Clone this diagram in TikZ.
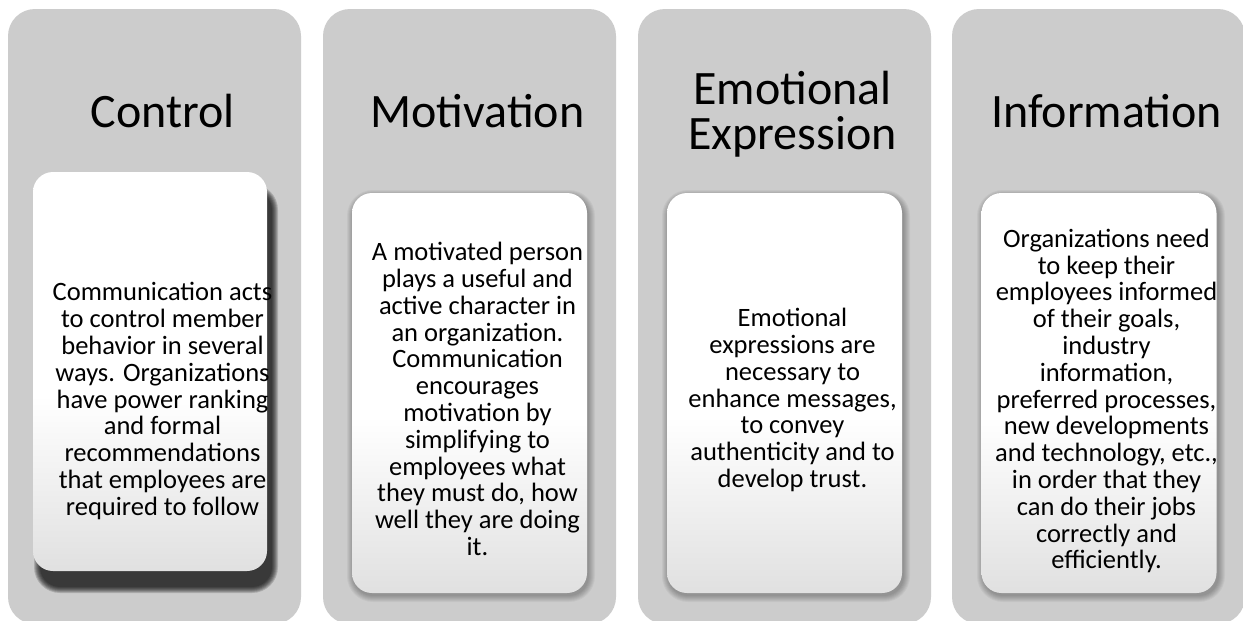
\documentclass[tikz,border=0pt]{standalone}
\usepackage{fontspec}
\setmainfont{Carlito}
\pgfdeclareverticalshading{cardshade}{100bp}{color(0bp)=(black!12); color(25bp)=(black!12); color(47bp)=(white); color(100bp)=(white)}
\newcommand\softshade[6]{%
  \foreach \k in {0,...,6}{%
    \fill[#6, opacity=#5, rounded corners={20+\k}] (#1-\k,#2-\k) rectangle (#3+\k,#4+\k);
  }%
}
\tikzset{
  column/.style={fill=black!20, draw=none, rounded corners=27pt, minimum width=293pt, minimum height=615pt, inner sep=0pt},
  card/.style={shading=cardshade, draw=none, rounded corners=20pt, minimum width=235pt, minimum height=400pt, inner sep=0pt},
  title/.style={font=\fontsize{48pt}{45pt}\selectfont, align=center, inner sep=0pt, text=black},
  body/.style={font=\fontsize{26.5pt}{26.8pt}\selectfont, align=center, inner sep=0pt, text=black}
}
\begin{document}
\begin{tikzpicture}[x=1pt,y=-1pt]
\useasboundingbox (0,0) rectangle (1243,621);
\fill[white] (0,0) rectangle (1243,621);
% columns
\node[column] (col1) at (154.5,316.5) {};
\node[column] (col2) at (469.5,316.5) {};
\node[column] (col3) at (784.5,316.5) {};
\node[column] (col4) at (1098.5,316.5) {};
% shadows
\softshade{40}{190}{272}{587}{0.16}{black}
\softshade{353}{196}{589}{596}{0.045}{black}
\softshade{668}{196}{904}{596}{0.045}{black}
\softshade{983}{196}{1219}{596}{0.045}{black}
% cards
\node[card, minimum width=234pt, minimum height=399pt] (card1) at (150,371.5) {};
\node[card] (card2) at (469.5,393) {};
\node[card] (card3) at (784.5,393) {};
\node[card] (card4) at (1099,393) {};
% titles
\node[title, anchor=base] (t1) at (162.5,127) {Control};
\node[title, anchor=base] (t2) at (477.5,127) {Motivation};
\node[title] (t3) at (792.5,114) {Emotional\\Expression};
\node[title, anchor=base] (t4) at (1106.5,127) {Information};
% texts
\node[body] (b1) at (162.5,401) {Communication acts\\to control member\\behavior in several\\ways. Organizations\\have power ranking\\and formal\\recommendations\\that employees are\\required to follow};
\node[body] (b2) at (477.5,399) {A motivated person\\plays a useful and\\active character in\\an organization.\\Communication\\encourages\\motivation by\\simplifying to\\employees what\\they must do, how\\well they are doing\\it.};
\node[body] (b3) at (792.5,400) {Emotional\\expressions are\\necessary to\\enhance messages,\\to convey\\authenticity and to\\develop trust.};
\node[body] (b4) at (1106.5,401) {Organizations need\\to keep their\\employees informed\\of their goals,\\industry\\information,\\preferred processes,\\new developments\\and technology, etc.,\\in order that they\\can do their jobs\\correctly and\\efficiently.};
\end{tikzpicture}
\end{document}
